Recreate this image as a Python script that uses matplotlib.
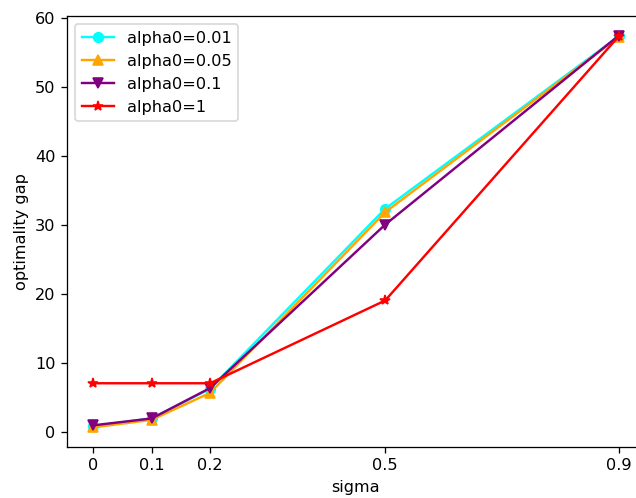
import matplotlib
matplotlib.use('Agg')
import matplotlib.pyplot as plt

sigma = [0, 0.1, 0.2, 0.5, 0.9]
gap_001 = [0.8, 1.9, 6.2, 32.3, 57.3]
gap_005 = [0.6, 1.7, 5.6, 31.8, 57.2]
gap_01 = [0.9, 1.9, 6.3, 30.0, 57.4]
gap_1 = [7.0, 7.0, 7.0, 19.0, 57.3]

dpi = 116
fig, ax = plt.subplots(figsize=(636 / dpi, 498 / dpi), dpi=dpi)
# axes runs slightly past the right edge of the image, as in the reference
fig.subplots_adjust(left=67 / 636, right=645 / 636, top=1 - 16 / 498, bottom=1 - 447 / 498)

ax.plot(sigma, gap_001, color='cyan', marker='o', label='alpha0=0.01')
ax.plot(sigma, gap_005, color='orange', marker='^', label='alpha0=0.05')
ax.plot(sigma, gap_01, color='purple', marker='v', label='alpha0=0.1')
ax.plot(sigma, gap_1, color='red', marker='*', label='alpha0=1')

ax.set_xticks(sigma)
ax.set_xticklabels(['0', '0.1', '0.2', '0.5', '0.9'])
ax.set_xlabel('sigma')
ax.set_ylabel('optimality gap')
ax.legend(loc='upper left')

plt.savefig('out.png', dpi=dpi)
